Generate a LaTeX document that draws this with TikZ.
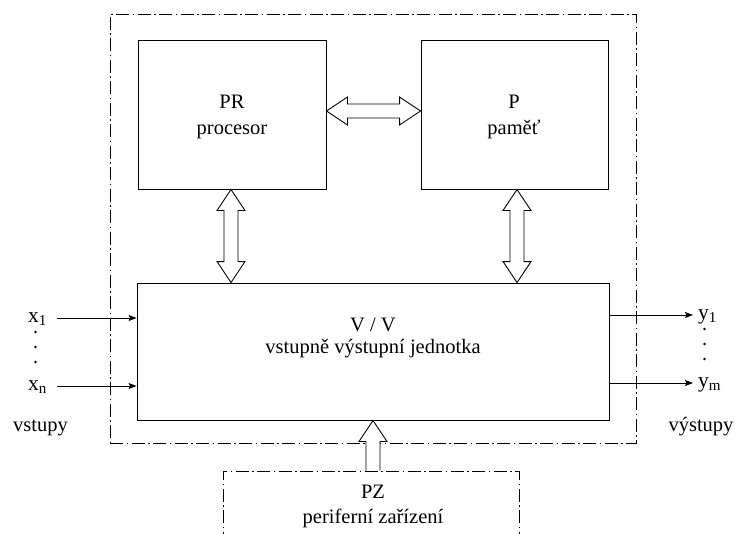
\documentclass[tikz,border=0pt]{standalone}
\usepackage{fontspec}
\setmainfont{Liberation Serif}
\usetikzlibrary{arrows.meta,calc}
\newcommand\vdblarrow[2]{%
  \draw[fat] let \p1=(#1), \p2=(#2) in
    (\x1,\y1) -- (\x1+14pt,\y1-21pt) -- (\x1+7pt,\y1-21pt) -- (\x1+7pt,\y2+21pt)
    -- (\x1+14pt,\y2+21pt) -- (\x1,\y2) -- (\x1-14pt,\y2+21pt) -- (\x1-7pt,\y2+21pt)
    -- (\x1-7pt,\y1-21pt) -- (\x1-14pt,\y1-21pt) -- cycle;}
\begin{document}
\begin{tikzpicture}[x=1pt,y=-1pt,
  blk/.style={draw, line width=0.9pt, inner sep=0pt},
  dd/.style={draw, line width=0.8pt, inner sep=0pt, dash pattern=on 13pt off 3.5pt on 1.5pt off 3.5pt},
  fat/.style={draw, line width=0.9pt, fill=white, line join=miter},
  sig/.style={draw, line width=0.9pt, -{Stealth[length=8pt,width=6pt,inset=1.5pt]}},
  lbl/.style={font=\fontsize{20.5}{24}\selectfont, inner sep=0pt, anchor=base},
  io/.style={font=\fontsize{21.5}{24}\selectfont, inner sep=0pt}]
\useasboundingbox (0,0) rectangle (738,533);
\clip (0,0) rectangle (738,533);
% boxes
\node[dd, minimum width=526pt, minimum height=429pt] (sys) at (373,228.5) {};
\node[dd, minimum width=296pt, minimum height=100pt] (PZ) at (371,521) {};
\node[blk, minimum width=188pt, minimum height=149pt] (PR) at (232,114.5) {};
\node[blk, minimum width=187pt, minimum height=149pt] (P) at (514.5,114.5) {};
\node[blk, minimum width=472pt, minimum height=137pt] (VV) at (373,351.5) {};
% texts
\node[lbl] (prt) at (232,108) {PR};
\node[lbl] (prs) at (232,134) {procesor};
\node[lbl] (pt) at (514,108) {P};
\node[lbl] (ps) at (514,134) {paměť};
\node[lbl] (vvt) at (373,331) {V / V};
\node[lbl] (vvs) at (373,353) {vstupně výstupní jednotka};
\node[lbl] (pzt) at (373,498) {PZ};
\node[lbl] (pzs) at (373,523) {periferní zařízení};
% horizontal double arrow
\coordinate (ha) at ($(PR.east)+(0,-3.5)$);
\coordinate (hb) at ($(P.west)+(0,-3.5)$);
\draw[fat] let \p1=(ha), \p2=(hb) in
  (\x1,\y1) -- (\x1+21pt,\y1+14pt) -- (\x1+21pt,\y1+7pt) -- (\x2-21pt,\y1+7pt)
  -- (\x2-21pt,\y1+14pt) -- (\x2,\y1) -- (\x2-21pt,\y1-14pt) -- (\x2-21pt,\y1-7pt)
  -- (\x1+21pt,\y1-7pt) -- (\x1+21pt,\y1-14pt) -- cycle;
% vertical double arrows
\coordinate (la) at ($(PR.south)+(-1,0)$);
\coordinate (lb) at (la |- VV.north);
\coordinate (ra) at ($(P.south)+(2.5,0)$);
\coordinate (rb) at (ra |- VV.north);
\vdblarrow{la}{lb}
\vdblarrow{ra}{rb}
% bottom arrow from PZ to VV
\coordinate (ba) at (VV.south);
\coordinate (bb) at (ba |- PZ.north);
\draw[fat] let \p1=(bb), \p2=(ba) in
  (\x1-7pt,\y1) -- (\x1-7pt,\y2-21pt) -- (\x1-14pt,\y2-21pt) -- (\x1,\y2)
  -- (\x1+14pt,\y2-21pt) -- (\x1+7pt,\y2-21pt) -- (\x1+7pt,\y1);
% inputs
\coordinate (x1s) at (57,318);
\coordinate (xns) at (57,386);
\draw[sig] (x1s) -- (x1s -| VV.west);
\draw[sig] (xns) -- (xns -| VV.west);
\node[io, anchor=base west] (x1l) at (28,322) {x\textsubscript{1}};
\node[io, anchor=base west] (xnl) at (28,390) {x\textsubscript{n}};
\fill (35.5,332) circle (1.3pt) (35.5,347) circle (1.3pt) (35.5,362) circle (1.3pt);
\node[lbl] (inl) at (40.5,431) {vstupy};
% outputs
\coordinate (y1e) at (693,315);
\coordinate (yme) at (693,383);
\draw[sig] (y1e -| VV.east) -- (y1e);
\draw[sig] (yme -| VV.east) -- (yme);
\node[io, anchor=base west] (y1l) at (698,319) {y\textsubscript{1}};
\node[io, anchor=base west] (yml) at (698,387) {y\textsubscript{m}};
\fill (704.5,329) circle (1.3pt) (704.5,344) circle (1.3pt) (704.5,359) circle (1.3pt);
\node[lbl] (outl) at (701,431) {výstupy};
\end{tikzpicture}
\end{document}
